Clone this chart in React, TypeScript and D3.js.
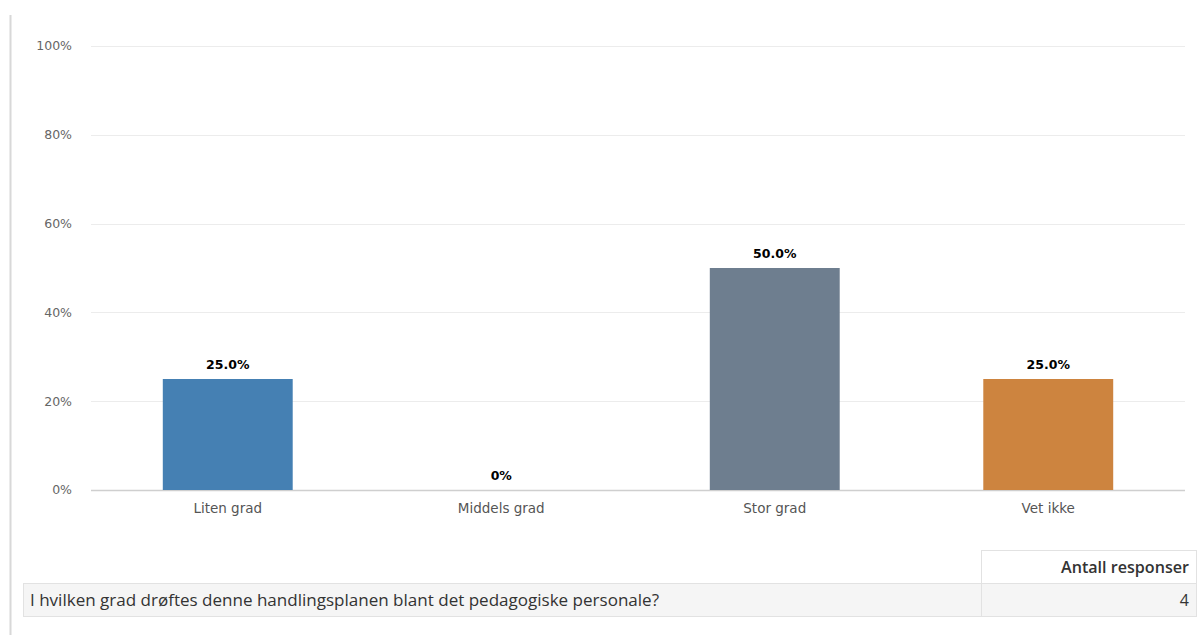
import React from "react";
import * as d3 from "d3";

const categories = ["Liten grad", "Middels grad", "Stor grad", "Vet ikke"];
const values = [25.0, 0, 50.0, 25.0];
const valueLabels = ["25.0%", "0%", "50.0%", "25.0%"];
const colors = ["#4580b3", "#4580b3", "#6e7e8f", "#cd843f"];
const yTicks = [0, 20, 40, 60, 80, 100];
const tableHeader = "Antall responser";
const questionText = "I hvilken grad drøftes denne handlingsplanen blant det pedagogiske personale?";
const responseCount = 4;

export default function App() {
  const W = 1198, H = 635;
  const left = 91, right = 1185, top = 46, bottom = 490;
  const x = d3.scaleBand<string>().domain(categories).range([left, right]).paddingInner(0.525).paddingOuter(0.2625);
  const y = d3.scaleLinear().domain([0, 100]).range([bottom, top]);
  const axisFont = "'DejaVu Sans', sans-serif";
  const tableFont = "'Open Sans', sans-serif";
  return (
    <svg width={W} height={H} style={{ position: "absolute", left: 0, top: 0, background: "#fff" }}>
      <line x1={10.5} x2={10.5} y1={15} y2={H} stroke="#d8d8d8" strokeWidth={2} />
      {yTicks.map((t) => (
        <g key={t}>
          <line x1={left} x2={right} y1={Math.round(y(t)) + 0.5} y2={Math.round(y(t)) + 0.5}
            stroke={t === 0 ? "#cfcfcf" : "#ececec"} strokeWidth={t === 0 ? 1.5 : 1} />
          <text x={72} y={y(t)} dy="0.35em" textAnchor="end" fontFamily={axisFont} fontSize={12.5} fill="#666">
            {t}%
          </text>
        </g>
      ))}
      {categories.map((c, i) => (
        <g key={c}>
          {values[i] > 0 && (
            <rect x={x(c)} y={y(values[i])} width={x.bandwidth()} height={y(0) - y(values[i])} fill={colors[i]} />
          )}
          <text x={x(c)! + x.bandwidth() / 2} y={y(values[i]) - 10} textAnchor="middle"
            fontFamily={axisFont} fontSize={12.5} fontWeight="bold" fill="#000">
            {valueLabels[i]}
          </text>
          <text x={x(c)! + x.bandwidth() / 2} y={bottom + 23} textAnchor="middle"
            fontFamily={axisFont} fontSize={13.5} fill="#555">
            {c}
          </text>
        </g>
      ))}
      {/* table */}
      <rect x={981.5} y={550.5} width={215} height={33} fill="#fff" stroke="#e2e2e2" />
      <text x={1189} y={573} textAnchor="end" fontFamily={tableFont} fontSize={16} fontWeight={600} fill="#333"
        textLength={128} lengthAdjust="spacingAndGlyphs">
        {tableHeader}
      </text>
      <rect x={23.5} y={583.5} width={1173} height={33} fill="#f5f5f5" stroke="#e2e2e2" />
      <line x1={981.5} x2={981.5} y1={583} y2={617} stroke="#e2e2e2" />
      <text x={30} y={606} fontFamily={tableFont} fontSize={16} fill="#333"
        textLength={629} lengthAdjust="spacingAndGlyphs">
        {questionText}
      </text>
      <text x={1189} y={606} textAnchor="end" fontFamily={tableFont} fontSize={16} fill="#333">
        {responseCount}
      </text>
    </svg>
  );
}
